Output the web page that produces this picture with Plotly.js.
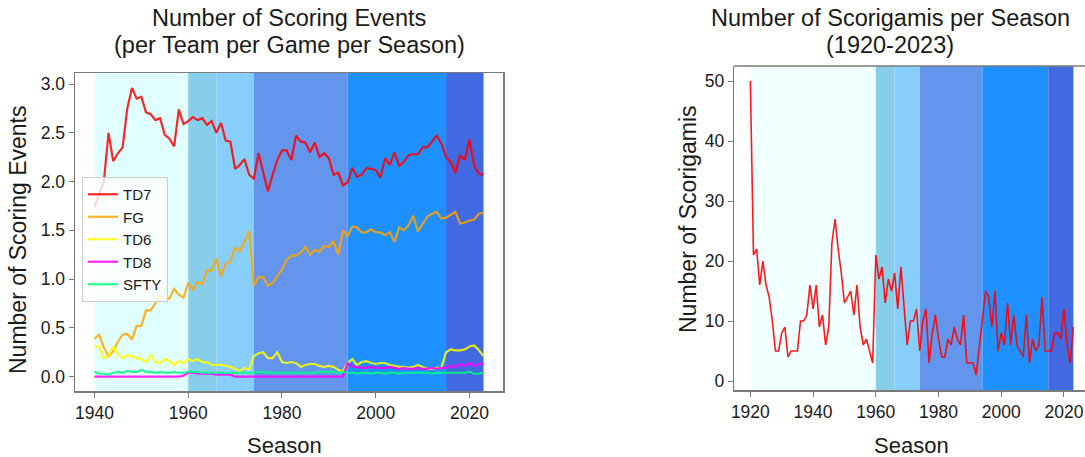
<!DOCTYPE html>
<html>
<head>
<meta charset="utf-8">
<script src="https://cdn.plot.ly/plotly-3.0.1.min.js"></script>
<style>
html,body{margin:0;padding:0;overflow:hidden;background:#fff;}
#chart{width:1085px;height:457px;}
</style>
</head>
<body>
<div id="chart"></div>
<script>
// ---- Left chart data: scoring events per team per game per season (1940-2023)
const seasonsLeft = [];
for (let y = 1940; y <= 2023; y++) seasonsLeft.push(y);

const td7 = [1.74,1.87,2.00,2.50,2.21,2.29,2.35,2.75,2.96,2.85,
             2.87,2.71,2.69,2.63,2.65,2.48,2.44,2.36,2.74,2.59,
             2.62,2.66,2.63,2.65,2.58,2.62,2.50,2.60,2.42,2.41,
             2.13,2.17,2.23,2.07,2.03,2.29,2.10,1.90,2.07,2.22,
             2.32,2.32,2.22,2.47,2.41,2.40,2.30,2.40,2.25,2.29,
             2.24,2.07,2.09,1.96,1.99,2.14,2.05,2.07,2.14,2.13,
             2.12,2.04,2.24,2.17,2.30,2.16,2.20,2.27,2.28,2.28,
             2.35,2.35,2.41,2.47,2.39,2.25,2.20,2.09,2.27,2.22,
             2.43,2.16,2.08,2.07];
const fg  = [0.39,0.43,0.30,0.21,0.26,0.36,0.43,0.44,0.38,0.52,
             0.52,0.68,0.68,0.75,0.83,0.80,0.80,0.90,0.84,0.81,
             0.96,0.89,0.97,0.95,1.09,1.09,1.21,1.03,1.16,1.18,
             1.32,1.29,1.38,1.49,0.93,1.02,1.02,0.93,0.96,1.03,
             1.10,1.20,1.24,1.24,1.27,1.33,1.25,1.30,1.28,1.34,
             1.33,1.39,1.25,1.50,1.44,1.54,1.53,1.48,1.48,1.51,
             1.48,1.48,1.45,1.48,1.38,1.53,1.50,1.55,1.65,1.49,
             1.56,1.64,1.67,1.69,1.62,1.63,1.66,1.69,1.57,1.58,
             1.60,1.61,1.67,1.68];
const td6 = [0.31,0.31,0.19,0.22,0.31,0.23,0.19,0.22,0.21,0.19,
             0.18,0.15,0.22,0.15,0.14,0.18,0.16,0.12,0.16,0.14,
             0.18,0.16,0.18,0.15,0.15,0.12,0.12,0.12,0.11,0.10,
             0.08,0.06,0.09,0.07,0.21,0.24,0.25,0.19,0.19,0.25,
             0.15,0.14,0.15,0.14,0.10,0.12,0.13,0.13,0.11,0.10,
             0.11,0.10,0.07,0.05,0.14,0.18,0.12,0.15,0.16,0.14,
             0.13,0.14,0.14,0.12,0.11,0.10,0.10,0.09,0.10,0.12,
             0.10,0.08,0.08,0.09,0.09,0.25,0.28,0.27,0.27,0.28,
             0.31,0.32,0.27,0.21];
const td8 = [0,0,0,0,0,0,0,0,0,0,
             0,0,0,0,0,0,0,0,0,0.01,
             0.04,0.04,0.03,0.03,0.03,0.03,0.02,0.02,0.02,0.02,
             0,0,0,0,0,0,0,0,0,0,
             0,0,0,0,0,0,0,0,0,0,
             0,0,0,0,0.14,0.10,0.10,0.09,0.09,0.10,
             0.09,0.09,0.09,0.10,0.09,0.08,0.09,0.08,0.08,0.09,
             0.08,0.08,0.09,0.08,0.09,0.09,0.11,0.10,0.13,0.11,
             0.14,0.11,0.13,0.13];
const sfty = [0.05,0.03,0.03,0.02,0.04,0.05,0.04,0.06,0.05,0.05,
              0.07,0.05,0.05,0.04,0.05,0.04,0.04,0.05,0.04,0.04,
              0.05,0.05,0.05,0.04,0.04,0.04,0.04,0.04,0.04,0.04,
              0.04,0.04,0.04,0.04,0.04,0.05,0.05,0.04,0.04,0.04,
              0.04,0.04,0.04,0.04,0.04,0.04,0.04,0.04,0.05,0.05,
              0.05,0.05,0.04,0.05,0.04,0.04,0.03,0.04,0.04,0.03,
              0.04,0.04,0.03,0.04,0.04,0.03,0.04,0.04,0.04,0.04,
              0.04,0.04,0.03,0.04,0.04,0.04,0.04,0.04,0.04,0.04,
              0.05,0.03,0.03,0.04];

// ---- Right chart data: scorigamis per season (1920-2023)
const seasonsRight = [];
for (let y = 1920; y <= 2023; y++) seasonsRight.push(y);
const scorigamis = [50,21,22,16,20,16,14,10,5,5,
                    8,9,4,5,5,5,10,10,11,16,
                    12,16,9,11,6,9,23,27,22,18,
                    13,14,15,11,16,9,6,7,5,3,
                    21,17,19,13,17,15,18,12,19,12,
                    6,10,10,12,5,10,12,3,8,11,
                    7,4,4,7,6,9,7,6,11,3,
                    3,3,1,6,11,15,14,9,15,5,
                    8,6,13,6,11,6,5,4,11,3,
                    7,5,6,14,5,5,5,8,8,7,
                    12,6,3,9];

// ---- Era bands
const eraStarts = [1960, 1966, 1974, 1994, 2015];
const eraEnds   = [1966, 1974, 1994, 2015, 2023];
const eraColors = ['#87CEEB', '#87CEFA', '#6495ED', '#1E90FF', '#4169E1'];

const FONT = '"Liberation Sans", Arial, sans-serif';
const TXT = '#1a1a1a';
const frameColor = '#7a7a7a';

const shapes = [];
shapes.push({type:'rect', xref:'x', yref:'y domain', x0:1940, x1:1960, y0:0, y1:1,
             fillcolor:'#E0FFFF', line:{width:0}, layer:'below'});
shapes.push({type:'rect', xref:'x2', yref:'y2 domain', x0:1920, x1:1960, y0:0, y1:1,
             fillcolor:'#F0FFFF', line:{width:0}, layer:'below'});
for (let i = 0; i < eraStarts.length; i++) {
  shapes.push({type:'rect', xref:'x', yref:'y domain', x0:eraStarts[i], x1:eraEnds[i], y0:0, y1:1,
               fillcolor:eraColors[i], line:{width:0}, layer:'below'});
  shapes.push({type:'rect', xref:'x2', yref:'y2 domain', x0:eraStarts[i], x1:eraEnds[i], y0:0, y1:1,
               fillcolor:eraColors[i], line:{width:0}, layer:'below'});
}
// top frame line of right chart (its right edge is off-canvas)
shapes.push({type:'line', xref:'x2 domain', yref:'y2 domain', x0:0, x1:1, y0:1, y1:1,
             line:{color:frameColor, width:1.5}});

const lw = 2.2;
const traces = [
  {x:seasonsLeft, y:td7,  name:'TD7',  mode:'lines', line:{color:'rgba(255,0,0,0.85)', width:lw}, xaxis:'x', yaxis:'y'},
  {x:seasonsLeft, y:fg,   name:'FG',   mode:'lines', line:{color:'rgba(255,165,0,0.85)', width:lw}, xaxis:'x', yaxis:'y'},
  {x:seasonsLeft, y:td6,  name:'TD6',  mode:'lines', line:{color:'rgba(255,255,0,0.85)', width:lw}, xaxis:'x', yaxis:'y'},
  {x:seasonsLeft, y:td8,  name:'TD8',  mode:'lines', line:{color:'rgba(255,0,255,0.85)', width:lw}, xaxis:'x', yaxis:'y'},
  {x:seasonsLeft, y:sfty, name:'SFTY', mode:'lines', line:{color:'rgba(0,255,127,0.85)', width:lw}, xaxis:'x', yaxis:'y'},
  {x:seasonsRight, y:scorigamis, name:'Scorigamis', mode:'lines', showlegend:false,
   line:{color:'rgba(255,0,0,0.9)', width:1.6}, xaxis:'x2', yaxis:'y2'}
];

const W = 1085, H = 457;
const px = v => v / W;
const py = v => 1 - v / H;

const axisCommon = {
  showgrid:false, zeroline:false, showline:true, linecolor:frameColor, linewidth:1.5,
  ticks:'outside', ticklen:5, tickwidth:1, tickcolor:frameColor,
  tickfont:{family:FONT, size:17.5, color:TXT}, fixedrange:true
};

function label(text, x, y, size, angle) {
  return {text:text, xref:'paper', yref:'paper', x:px(x), y:py(y), xanchor:'center', yanchor:'middle',
          showarrow:false, textangle:angle || 0, font:{family:FONT, size:size, color:TXT}};
}

const layout = {
  width:W, height:H,
  margin:{l:0, r:0, t:0, b:0},
  paper_bgcolor:'#ffffff', plot_bgcolor:'#ffffff',
  font:{family:FONT, color:TXT},
  showlegend:true,
  legend:{x:px(82), y:py(177), xanchor:'left', yanchor:'top',
          bgcolor:'rgba(255,255,255,0.8)', bordercolor:'#cccccc', borderwidth:1,
          font:{family:FONT, size:15, color:TXT}, tracegroupgap:0, itemwidth:30},
  xaxis: Object.assign({}, axisCommon, {domain:[px(75), px(503)], range:[1935.85, 2027.15],
          tickvals:[1940,1960,1980,2000,2020], anchor:'y', mirror:true}),
  yaxis: Object.assign({}, axisCommon, {domain:[py(391), py(73)], range:[-0.147, 3.113],
          tickvals:[0,0.5,1,1.5,2,2.5,3], tickformat:'.1f', anchor:'x', mirror:true}),
  xaxis2: Object.assign({}, axisCommon, {domain:[px(734.2), 1], range:[1914.85, 2026.7],
          tickvals:[1920,1940,1960,1980,2000,2020], anchor:'y2'}),
  yaxis2: Object.assign({}, axisCommon, {domain:[py(390), py(66)], range:[-1.5, 52.5],
          tickvals:[0,10,20,30,40,50], anchor:'x2'}),
  shapes: shapes,
  annotations: [
    label('Number of Scoring Events', 289, 18, 23.5),
    label('(per Team per Game per Season)', 289, 45, 23.5),
    label('Number of Scorigamis per Season', 890, 18, 23.5),
    label('(1920-2023)', 890, 45, 23.5),
    label('Number of Scoring Events', 18, 240, 23, -90),
    label('Number of Scorigamis', 688, 219, 23, -90),
    label('Season', 284, 445, 22),
    label('Season', 911, 445, 22)
  ]
};

Plotly.newPlot('chart', traces, layout, {staticPlot:true, displayModeBar:false});
</script>
</body>
</html>
